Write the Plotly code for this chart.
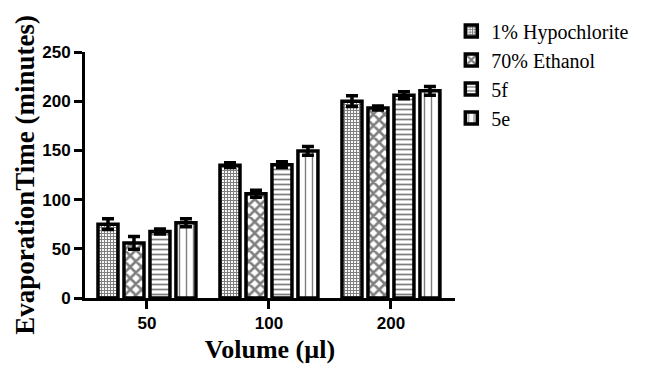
import plotly.graph_objects as go

categories = ["50", "100", "200"]
series_names = ["1% Hypochlorite", "70% Ethanol", "5f", "5e"]
hypochlorite = [75, 135, 200]
hypochlorite_err = [5.5, 2.5, 5.5]
ethanol = [56, 106, 193]
ethanol_err = [6.5, 3.5, 2]
s5f = [67.5, 135.5, 206]
s5f_err = [2.5, 3, 3.5]
s5e = [76.5, 149.5, 210.5]
s5e_err = [4, 4.5, 4.5]
y_ticks = [0, 50, 100, 150, 200, 250]

values = [hypochlorite, ethanol, s5f, s5e]
errors = [hypochlorite_err, ethanol_err, s5f_err, s5e_err]
patterns = [
    dict(shape="+", size=3, solidity=0.6, fgcolor="black", bgcolor="white"),
    dict(shape="x", size=8, solidity=0.55, fgcolor="black", bgcolor="white"),
    dict(shape="-", size=5, solidity=0.35, fgcolor="black", bgcolor="white"),
    dict(shape="|", size=7, solidity=0.2, fgcolor="black", bgcolor="white"),
]

serif = "Liberation Serif"
sans = "Liberation Sans"

fig = go.Figure()
for name, v, e, p in zip(series_names, values, errors, patterns):
    fig.add_trace(go.Bar(
        x=categories, y=v, name=name,
        marker=dict(color="white", pattern=p, line=dict(color="black", width=3.5)),
        error_y=dict(type="data", array=e, visible=True, color="black",
                     thickness=3.5, width=6),
    ))

fig.update_layout(
    width=651, height=365,
    margin=dict(l=85, r=196, t=52, b=67, autoexpand=False),
    paper_bgcolor="white", plot_bgcolor="white",
    barmode="group", bargap=0.148, bargroupgap=0.23,
    showlegend=True,
    legend=dict(x=0.99, xanchor="left", y=1.165, yanchor="top",
                font=dict(family=serif, size=20, color="black"),
                bgcolor="rgba(0,0,0,0)", tracegroupgap=0, itemwidth=30),
    font=dict(family=sans, color="black"),
)
fig.update_xaxes(
    range=[-0.508, 2.525], showline=True, linecolor="black", linewidth=3,
    ticks="outside", ticklen=8, tickwidth=3, tickcolor="black",
    showgrid=False, zeroline=False,
    tickfont=dict(family=sans, size=17, color="black", weight="bold"),
    title=dict(text="<b>Volume (µl)</b>", standoff=8,
               font=dict(family=serif, size=26, color="black")),
)
fig.update_yaxes(
    range=[0, 250], tickvals=y_ticks, showline=True, linecolor="black", linewidth=3,
    ticks="outside", ticklen=8, tickwidth=3, tickcolor="black",
    showgrid=False, zeroline=False,
    tickfont=dict(family=sans, size=17, color="black", weight="bold"),
    title=dict(text="<b>EvaporationTime (minutes)</b>", standoff=0,
               font=dict(family=serif, size=27, color="black")),
)

fig.write_html(
    "out.html",
    config={"displayModeBar": False},
    post_script="document.body.style.margin='0';document.body.style.padding='0';",
)
